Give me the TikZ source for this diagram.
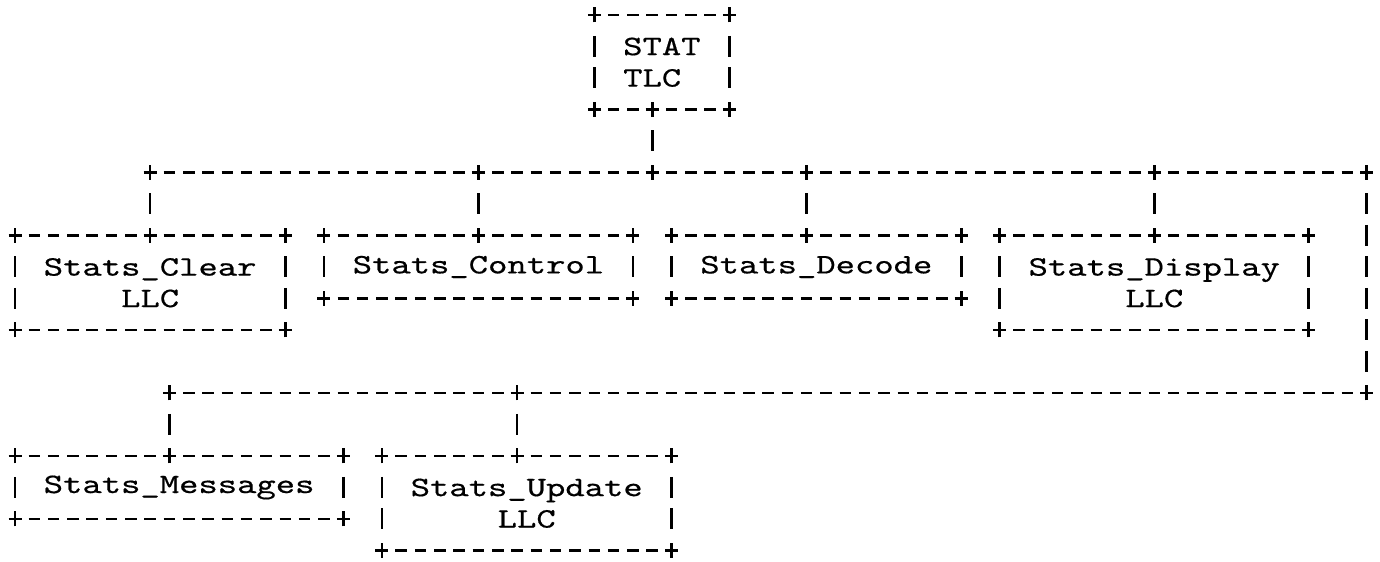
\documentclass[tikz,border=0pt]{standalone}
\usepackage{fontspec}
\newfontfamily\ttyfont{lmmono10-regular.otf}[FakeStretch=1.31, FakeBold=0.5]

\begin{document}
\begin{tikzpicture}[x=0.3862cm, y=-0.63cm]
    % Styles
    \tikzstyle{unit} = [rectangle, inner sep=0pt, outer sep=0pt, font=\ttyfont\fontsize{16pt}{17.9pt}\selectfont, align=center]
    \tikzstyle{hline} = [draw, line width=1.5pt, dash pattern=on 0.23cm off 0.1562cm, dash phase=0.115cm]
    \tikzstyle{vline} = [draw, line width=1.5pt, dash pattern=on 0.42cm off 0.21cm, dash phase=0.526cm, shorten <=0.315cm, shorten >=0.315cm]
    \tikzset{cross/.pic={\draw[solid, line width=1.5pt] (-0.13cm,0) -- (0.13cm,0) (0,-0.15cm) -- (0,0.15cm);}}

    \useasboundingbox (-0.777,-0.476) rectangle (70.689,17.365);

    % Nodes
    \node [unit, align=left, minimum width=2.7034cm, minimum height=1.89cm] (tlc) at (33.5,1.5) {STAT\\TLC};
    \node [unit, minimum width=5.4068cm, minimum height=1.89cm] (clr) at (7,8.5) {Stats\_Clear\\LLC};
    \node [unit, minimum width=6.1792cm, minimum height=1.26cm] (ctl) at (24,8) {Stats\_Control};
    \node [unit, minimum width=5.793cm, minimum height=1.26cm] (dec) at (41.5,8) {Stats\_Decode};
    \node [unit, minimum width=6.1792cm, minimum height=1.89cm] (dsp) at (59,8.5) {Stats\_Display\\LLC};
    \node [unit, minimum width=6.5654cm, minimum height=1.26cm] (msg) at (8.5,15) {Stats\_Messages};
    \node [unit, minimum width=5.793cm, minimum height=1.89cm] (upd) at (26.5,15.5) {Stats\_Update\\LLC};

    % Bus points
    \coordinate (b1) at (7,5);
    \coordinate (b2) at (24,5);
    \coordinate (b3) at (33,5);
    \coordinate (b4) at (41,5);
    \coordinate (b5) at (59,5);
    \coordinate (b6) at (70,5);
    \coordinate (c1) at (8,12);
    \coordinate (c2) at (26,12);
    \coordinate (c3) at (70,12);

    % Box outlines
    \foreach \n in {tlc,clr,ctl,dec,dsp,msg,upd} {
        \draw [hline] (\n.north west) -- (\n.north east);
        \draw [hline] (\n.south west) -- (\n.south east);
        \draw [vline] (\n.north west) -- (\n.south west);
        \draw [vline] (\n.north east) -- (\n.south east);
        \foreach \a in {north west,north east,south west,south east}
            \pic at (\n.\a) {cross};
    }

    % Edges
    \draw [vline] (tlc.south -| b3) -- (b3);
    \draw [hline] (b1) -- (b6);
    \draw [vline] (b1) -- (b1 |- clr.north);
    \draw [vline] (b2) -- (b2 |- ctl.north);
    \draw [vline] (b4) -- (b4 |- dec.north);
    \draw [vline] (b5) -- (b5 |- dsp.north);
    \draw [vline] (b6) -- (c3);
    \draw [hline] (c1) -- (c3);
    \draw [vline] (c1) -- (c1 |- msg.north);
    \draw [vline] (c2) -- (c2 |- upd.north);

    % Junctions
    \foreach \p in {b1,b2,b3,b4,b5,b6,c1,c2,c3}
        \pic at (\p) {cross};
    \pic at (tlc.south -| b3) {cross};
    \pic at (clr.north -| b1) {cross};
    \pic at (ctl.north -| b2) {cross};
    \pic at (dec.north -| b4) {cross};
    \pic at (dsp.north -| b5) {cross};
    \pic at (msg.north -| c1) {cross};
    \pic at (upd.north -| c2) {cross};

\end{tikzpicture}
\end{document}
